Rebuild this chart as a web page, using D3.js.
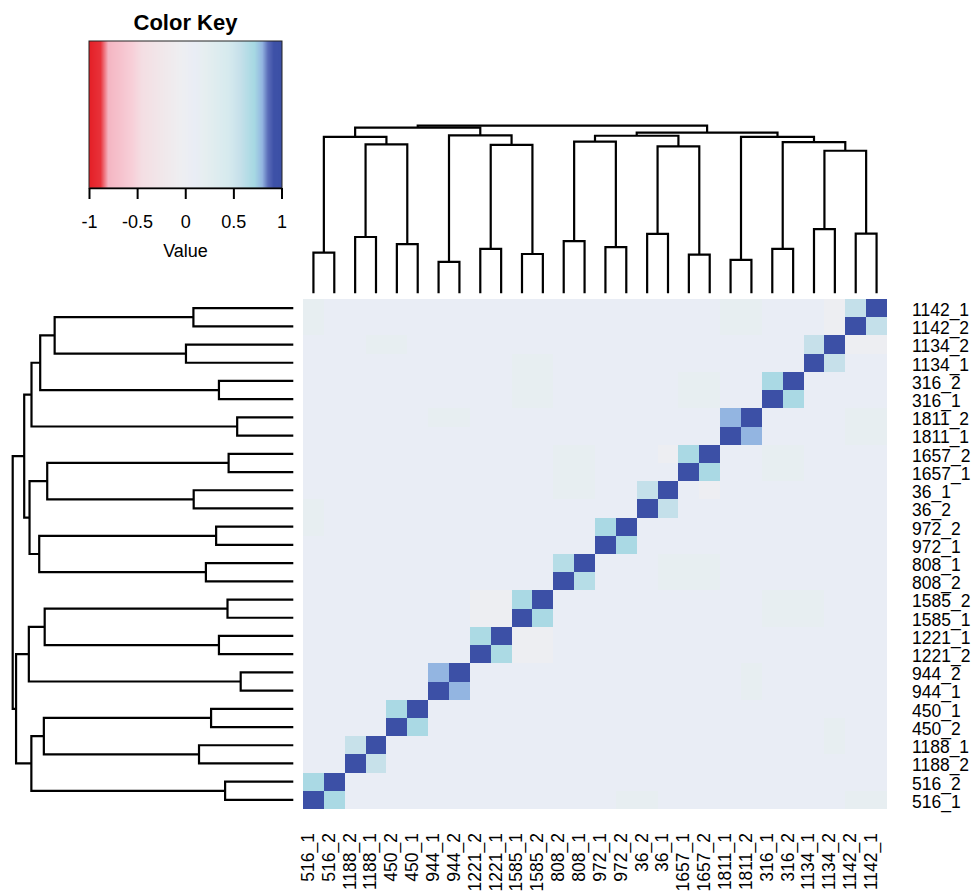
<!DOCTYPE html>
<html lang="en">
<head>
<meta charset="UTF-8">
<title>Correlation heatmap</title>
<script src="https://cdn.jsdelivr.net/npm/d3@7"></script>
<style>
  body { margin: 0; background: #fff; }
  svg { display: block; font-family: "Liberation Sans", Arial, sans-serif; }
  .dendro { fill: none; stroke: #000; stroke-width: 2.2; }
  .lab { font-size: 17.5px; fill: #000; }
</style>
</head>
<body>
<svg width="974" height="894"></svg>
<script>
// samples in column order, left to right (rows run bottom to top in the same order)
const samples = ["516_1", "516_2", "1188_2", "1188_1", "450_2", "450_1", "944_1", "944_2",
  "1221_2", "1221_1", "1585_1", "1585_2", "808_2", "808_1", "972_1", "972_2",
  "36_2", "36_1", "1657_1", "1657_2", "1811_1", "1811_2", "316_1", "316_2",
  "1134_1", "1134_2", "1142_2", "1142_1"];

// correlation between the two replicates of each id
const pairIds = ["516", "1188", "450", "944", "1221", "1585", "808", "972", "36", "1657", "1811", "316", "1134", "1142"];
const pairCorr = [0.70, 0.56, 0.70, 0.80, 0.69, 0.70, 0.64, 0.70, 0.58, 0.70, 0.80, 0.70, 0.57, 0.58];

// everything else sits close to zero
const baseCorr = 0.10;
const tints = [
  ["1221_2", "1585_1", -0.02], ["1221_2", "1585_2", -0.02], ["1221_1", "1585_1", -0.02], ["1221_1", "1585_2", -0.02],
  ["1134_2", "1142_2", -0.02], ["1134_2", "1142_1", -0.02], ["36_1", "1657_2", -0.02],
  ["1811_1", "1142_2", 0.18], ["1811_1", "1142_1", 0.18], ["1811_2", "1142_2", 0.18], ["1811_2", "1142_1", 0.18],
  ["316_1", "1657_1", 0.18], ["316_1", "1657_2", 0.18], ["316_2", "1657_1", 0.18], ["316_2", "1657_2", 0.18],
  ["516_1", "1142_2", 0.18], ["516_1", "1142_1", 0.18], ["1188_1", "1134_2", 0.18], ["450_2", "1134_2", 0.18],
  ["944_1", "1811_2", 0.18], ["944_2", "1811_2", 0.18],
  ["1585_1", "316_1", 0.18], ["1585_1", "316_2", 0.18], ["1585_1", "1134_1", 0.18],
  ["1585_2", "316_1", 0.18], ["1585_2", "316_2", 0.18], ["1585_2", "1134_1", 0.18],
  ["808_2", "36_1", 0.18], ["808_2", "1657_1", 0.18], ["808_2", "1657_2", 0.18],
  ["808_1", "36_1", 0.18], ["808_1", "1657_1", 0.18], ["808_1", "1657_2", 0.18],
  ["516_1", "36_2", 0.18], ["516_1", "972_2", 0.18]
];

// hclust style merges: [left, right, height]; strings are leaves, numbers earlier merges
const merges = [
  ["516_1", "516_2", 0.486], ["1188_2", "1188_1", 0.672], ["450_2", "450_1", 0.586],
  ["944_1", "944_2", 0.375], ["1221_2", "1221_1", 0.530], ["1585_1", "1585_2", 0.469],
  ["808_2", "808_1", 0.623], ["972_1", "972_2", 0.550], ["36_2", "36_1", 0.710],
  ["1657_1", "1657_2", 0.461], ["1811_1", "1811_2", 0.400], ["316_1", "316_2", 0.530],
  ["1134_1", "1134_2", 0.765], ["1142_2", "1142_1", 0.712],
  [1, 2, 1.778], [0, 14, 1.867], [4, 5, 1.772], [3, 16, 1.885], [15, 17, 1.976],
  [6, 7, 1.811], [8, 9, 1.754], [19, 20, 1.880], [12, 13, 1.701], [11, 22, 1.804],
  [10, 23, 1.866], [21, 24, 1.918], [18, 25, 2.0]
];

const keyTicks = [-1, -0.5, 0, 0.5, 1];

const svg = d3.select("svg");
const n = samples.length;
const idx = new Map(samples.map((s, i) => [s, i]));

const corr = samples.map(() => samples.map(() => baseCorr));
samples.forEach((s, i) => { corr[i][i] = 1; });
pairIds.forEach((p, k) => {
  const a = idx.get(p + "_1"), b = idx.get(p + "_2");
  corr[a][b] = corr[b][a] = pairCorr[k];
});
tints.forEach(([s1, s2, v]) => {
  const a = idx.get(s1), b = idx.get(s2);
  corr[a][b] = corr[b][a] = v;
});

const color = d3.scaleLinear()
  .domain([-1, -0.88, -0.8, -0.55, -0.45, -0.25, -0.05, 0.1, 0.2, 0.45, 0.57, 0.65, 0.72, 0.8, 0.86, 0.92, 1])
  .range(["#e41f26", "#e8323a", "#f4b5c2", "#f7cfd8", "#f4dee3", "#f1e7ea", "#eeeef1", "#e9edf5", "#e6eef0",
          "#d6eaee", "#c6e0ea", "#b4dce6", "#a6d8e3", "#93b5e1", "#5a6cb8", "#3d51a7", "#3c50a6"])
  .clamp(true);

// heatmap
const hm = { left: 303, right: 887, top: 299, bottom: 809 };
const x = d3.scaleBand().domain(samples).range([hm.left, hm.right]);
const y = d3.scaleBand().domain(samples.slice().reverse()).range([hm.top, hm.bottom]);
const colPos = d3.scaleLinear().domain([0, n]).range([hm.left, hm.right]);
const rowPos = d3.scaleLinear().domain([0, n]).range([hm.bottom, hm.top]);

const cells = [];
samples.forEach((r, i) => samples.forEach((c, j) => cells.push({ r, c, v: corr[i][j] })));
svg.append("g").attr("shape-rendering", "crispEdges")
  .selectAll("rect").data(cells).join("rect")
  .attr("x", d => x(d.c)).attr("y", d => y(d.r))
  .attr("width", x.bandwidth()).attr("height", y.bandwidth())
  .attr("fill", d => color(d.v));

// dendrograms
const built = [];
const node = ref => typeof ref === "string" ? { pos: idx.get(ref), h: 0 } : built[ref];
merges.forEach(([a, b, h]) => {
  const na = node(a), nb = node(b);
  built.push({ a: na, b: nb, h, pos: (na.pos + nb.pos) / 2 });
});

const hTop = d3.scaleLinear().domain([0, 2]).range([293.3, 125.7]);
const hLeft = d3.scaleLinear().domain([0, 2]).range([293.3, 12.7]);
const cx = p => colPos(p + 0.5);
const ry = p => rowPos(p + 0.5);

svg.append("g").selectAll("path").data(built).join("path")
  .attr("class", "dendro")
  .attr("d", d => `M${cx(d.a.pos)},${hTop(d.a.h)}V${hTop(d.h)}H${cx(d.b.pos)}V${hTop(d.b.h)}`);

svg.append("g").selectAll("path").data(built).join("path")
  .attr("class", "dendro")
  .attr("d", d => `M${hLeft(d.a.h)},${ry(d.a.pos)}H${hLeft(d.h)}V${ry(d.b.pos)}H${hLeft(d.b.h)}`);

// labels
svg.append("g").selectAll("text").data(samples).join("text")
  .attr("class", "lab")
  .attr("x", 912).attr("y", d => y(d) + y.bandwidth() / 2)
  .attr("dy", "0.45em")
  .text(d => d);

svg.append("g").selectAll("text").data(samples).join("text")
  .attr("class", "lab")
  .attr("text-anchor", "end")
  .attr("transform", d => `translate(${x(d) + x.bandwidth() / 2},833) rotate(-90)`)
  .attr("dy", "0.02em")
  .text(d => d);

// colour key
const key = { left: 89, right: 282, top: 41, bottom: 188 };
const keyX = d3.scaleLinear().domain([-1, 1]).range([key.left, 281.5]);
svg.append("g").attr("shape-rendering", "crispEdges")
  .selectAll("rect").data(d3.range(key.left, key.right)).join("rect")
  .attr("x", d => d).attr("y", key.top)
  .attr("width", 1.2).attr("height", key.bottom - key.top)
  .attr("fill", d => color(keyX.invert(d + 0.5)));
svg.append("rect")
  .attr("x", key.left).attr("y", key.top)
  .attr("width", key.right - key.left).attr("height", key.bottom - key.top)
  .attr("fill", "none").attr("stroke", "#222").attr("stroke-width", 1);

const axis = svg.append("g")
  .attr("transform", `translate(0,${key.bottom})`)
  .call(d3.axisBottom(keyX).tickValues(keyTicks).tickFormat(d => String(d))
    .tickSize(11).tickSizeOuter(0).tickPadding(16));
axis.select(".domain").attr("stroke", "#000").attr("stroke-width", 1.5);
axis.selectAll(".tick line").attr("stroke", "#000").attr("stroke-width", 2);
axis.selectAll(".tick text").attr("font-size", 18).attr("font-family", "Liberation Sans, Arial, sans-serif").attr("fill", "#000");

svg.append("text")
  .attr("x", (key.left + key.right) / 2).attr("y", 30)
  .attr("text-anchor", "middle")
  .attr("font-size", 22).attr("font-weight", "bold")
  .text("Color Key");

svg.append("text")
  .attr("x", (key.left + key.right) / 2).attr("y", 257)
  .attr("text-anchor", "middle")
  .attr("font-size", 18)
  .text("Value");
</script>
</body>
</html>
